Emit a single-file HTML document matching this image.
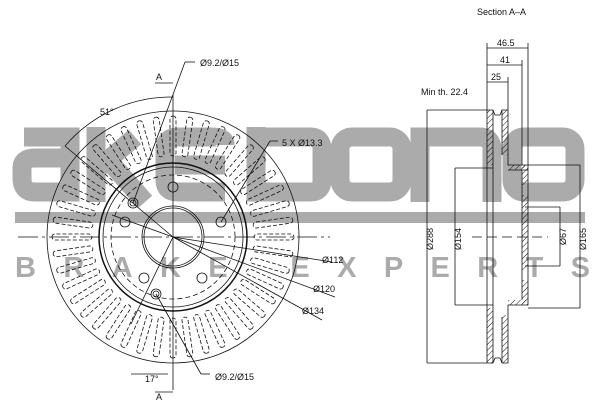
<!DOCTYPE html>
<html><head><style>html,body{margin:0;padding:0;background:#fff}svg{display:block}</style></head>
<body>
<svg width="600" height="400" viewBox="0 0 600 400" xmlns="http://www.w3.org/2000/svg" font-family="Liberation Sans, sans-serif">
<defs>
<pattern id="h" width="4" height="4" patternUnits="userSpaceOnUse" patternTransform="rotate(45)"><line x1="0" y1="0" x2="0" y2="4" stroke="#111" stroke-width="1"/></pattern>
</defs>
<!-- watermark logo -->
<g fill="none" stroke="#ababab" stroke-width="19">
<!-- a -->
<path d="M24 137 H70 V192 H35 Q22 192 22 178 V168 Q22 158 35 158 H70"/>
<!-- k -->
<path d="M96 127 V202 M96 170 L135 137 M110 162 L145 202"/>
<!-- e -->
<path d="M225 145 Q225 137 212 137 H178 Q165 137 165 150 V180 Q165 192 178 192 H225 M175 165 H225"/>
<!-- b -->
<path d="M256 127 V192 H310 Q322 192 322 180 V150 Q322 137 310 137 H256"/>
<!-- o -->
<rect x="340" y="137" width="62" height="55" rx="12"/>
<!-- n -->
<path d="M420 202 V137 H480 Q492 137 492 150 V202"/>
<!-- o -->
<rect x="512" y="137" width="63" height="55" rx="12"/>
</g>
<g fill="#ababab">
<rect x="15" y="212" width="570" height="11"/>
<text x="15" y="277" font-size="29" font-weight="bold" textLength="575" lengthAdjust="spacing">BRAKE EXPERTS</text>
</g>
<g stroke="#111" fill="none" stroke-width="0.8">
<!-- disc front view -->
<circle cx="173" cy="237" r="126"/>
<circle cx="173" cy="237" r="74" stroke-width="1.5"/>
<circle cx="173" cy="237" r="70"/>
<circle cx="173" cy="237" r="62" stroke-dasharray="5,3"/>
<circle cx="173" cy="237" r="31"/>
<circle cx="173" cy="237" r="29"/>
<g id="vents" stroke-dasharray="4,2">
</g>
<line x1="18" y1="237" x2="330" y2="237" stroke-dasharray="20,4,3,4"/>
<line x1="173" y1="95" x2="173" y2="390"/>
<!-- bolt holes -->
<circle cx="173" cy="187" r="5"/><circle cx="221" cy="222" r="5"/><circle cx="202" cy="278" r="5"/><circle cx="144" cy="278" r="5"/><circle cx="125" cy="222" r="5"/>
<circle cx="133" cy="203" r="5"/><circle cx="133" cy="203" r="3"/>
<circle cx="156" cy="294" r="5"/><circle cx="156" cy="294" r="3"/>
<!-- leaders -->
<line x1="173" y1="237" x2="65" y2="146"/><line x1="173" y1="237" x2="131" y2="324"/>
<line x1="173" y1="237" x2="332" y2="262"/><line x1="173" y1="237" x2="335" y2="297"/><line x1="173" y1="237" x2="322" y2="320"/>
<line x1="173" y1="237" x2="112" y2="215"/>
<path d="M65 146 A140 140 0 0 1 173 97"/>
<line x1="185" y1="62" x2="133" y2="203"/><line x1="185" y1="62" x2="195" y2="62"/>
<line x1="270" y1="141" x2="221" y2="222"/><line x1="270" y1="141" x2="278" y2="141"/>
<line x1="201" y1="374" x2="156" y2="294"/><line x1="201" y1="374" x2="210" y2="374"/>
<line x1="131" y1="374" x2="168" y2="374"/>
<line x1="155" y1="83" x2="173" y2="83"/><line x1="155" y1="392" x2="173" y2="392"/>
<!-- section view -->
<line x1="487" y1="43" x2="487" y2="110"/><line x1="528" y1="43" x2="528" y2="165"/>
<line x1="522" y1="60" x2="522" y2="165"/><line x1="508" y1="77" x2="508" y2="110"/>
<line x1="487" y1="48" x2="528" y2="48"/><line x1="487" y1="65" x2="522" y2="65"/><line x1="487" y1="82" x2="508" y2="82"/>
<path d="M487 110 H493 L495 115 H500 L502 110 H508 V165 H528 V305 H508 V363 H502 L500 358 H495 L493 363 H487 Z"/>
<line x1="493" y1="110" x2="493" y2="363"/><line x1="502" y1="110" x2="502" y2="155"/><line x1="502" y1="317" x2="502" y2="363"/>
<line x1="508" y1="170" x2="528" y2="170" /><line x1="522" y1="170" x2="522" y2="300"/>
<line x1="427" y1="110" x2="427" y2="363"/><line x1="427" y1="110" x2="487" y2="110"/><line x1="427" y1="363" x2="487" y2="363"/>
<line x1="455" y1="168" x2="455" y2="305"/><line x1="455" y1="168" x2="493" y2="168"/><line x1="455" y1="305" x2="493" y2="305"/>
<line x1="560" y1="207" x2="560" y2="266"/><line x1="525" y1="207" x2="560" y2="207"/><line x1="525" y1="266" x2="560" y2="266"/>
<line x1="580" y1="165" x2="580" y2="308"/><line x1="528" y1="165" x2="580" y2="165"/><line x1="528" y1="308" x2="580" y2="308"/>
<line x1="472" y1="237" x2="548" y2="237" stroke-dasharray="10,5"/>
</g>
<g fill="url(#h)">
<rect x="487" y="110" width="6" height="55"/><rect x="502" y="110" width="6" height="45"/>
<rect x="487" y="308" width="6" height="55"/><rect x="502" y="315" width="6" height="48"/>
<rect x="508" y="165" width="20" height="5"/><rect x="508" y="300" width="20" height="5"/>
<rect x="522" y="165" width="6" height="20"/><rect x="522" y="195" width="6" height="75"/><rect x="522" y="280" width="6" height="25"/>
</g>
<g font-size="9" fill="#111">
<text x="477" y="15">Section A–A</text>
<text x="497" y="46">46.5</text><text x="500" y="63">41</text><text x="491" y="80">25</text>
<text x="421" y="95">Min th. 22.4</text>
<text x="200" y="66">Ø9.2/Ø15</text><text x="282" y="146">5 X Ø13.3</text>
<text x="215" y="380">Ø9.2/Ø15</text>
<text x="322" y="263">Ø112</text><text x="313" y="292">Ø120</text><text x="302" y="314">Ø134</text>
<text x="100" y="115">51°</text><text x="145" y="382">17°</text>
<text x="156" y="80">A</text><text x="156" y="400">A</text>
<text transform="translate(433,250) rotate(-90)">Ø288</text>
<text transform="translate(461,250) rotate(-90)">Ø154</text>
<text transform="translate(566,245) rotate(-90)">Ø67</text>
<text transform="translate(586,250) rotate(-90)">Ø165</text>
</g>
<script>
var g=document.getElementById('vents'),ns='http://www.w3.org/2000/svg';
for(var i=0;i<44;i++){var a=i*360/44;var r=document.createElementNS(ns,'rect');
r.setAttribute('x',-3);r.setAttribute('y',-121);r.setAttribute('width',6);r.setAttribute('height',40);r.setAttribute('rx',3);
r.setAttribute('transform','translate(173 237) rotate('+a+')');g.appendChild(r);}
</script>
</svg>
</body></html>
